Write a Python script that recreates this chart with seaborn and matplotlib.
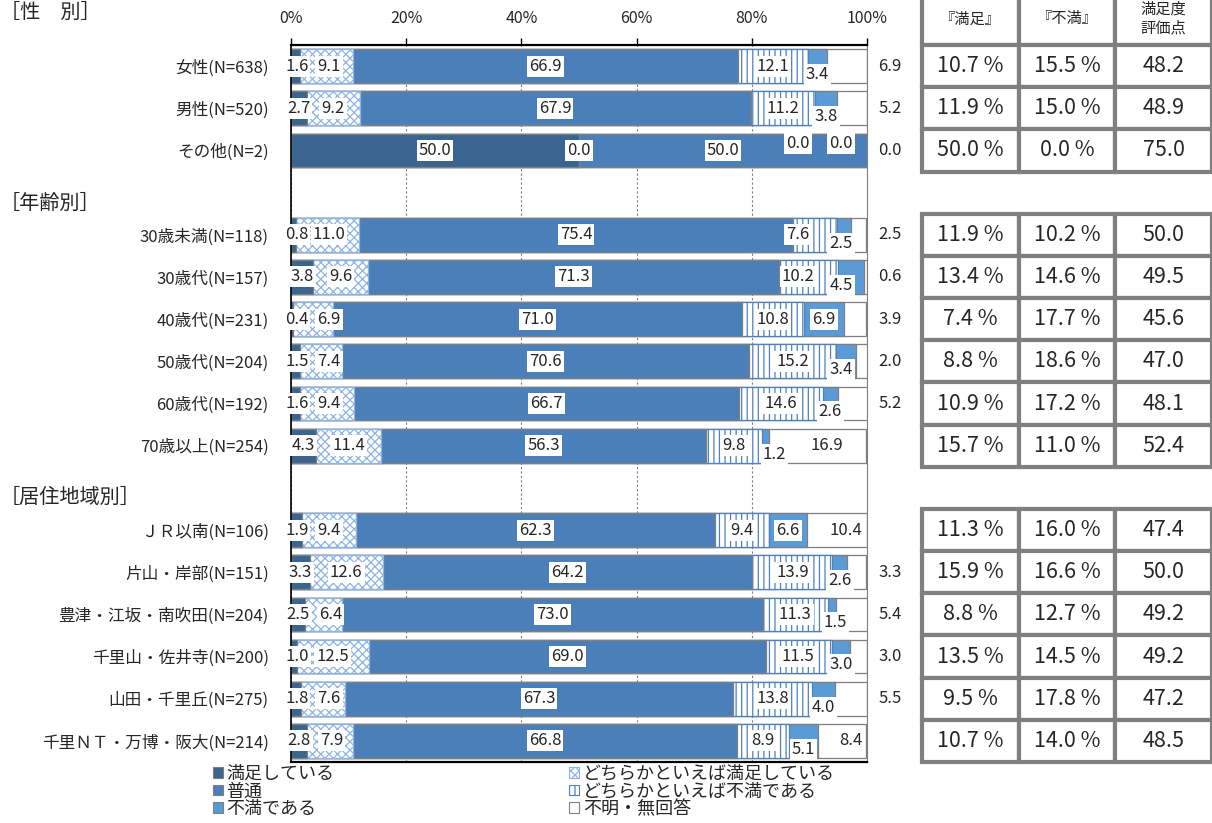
import matplotlib
matplotlib.use('Agg')
import matplotlib.pyplot as plt
from matplotlib.patches import Patch, Rectangle
from matplotlib.transforms import blended_transform_factory
import pandas as pd
import seaborn as sns

# ---- data ----
rows = ['女性(N=638)', '男性(N=520)', 'その他(N=2)', ' ',
        '30歳未満(N=118)', '30歳代(N=157)', '40歳代(N=231)', '50歳代(N=204)',
        '60歳代(N=192)', '70歳以上(N=254)', '  ',
        'ＪＲ以南(N=106)', '片山・岸部(N=151)', '豊津・江坂・南吹田(N=204)',
        '千里山・佐井寺(N=200)', '山田・千里丘(N=275)', '千里ＮＴ・万博・阪大(N=214)']

satisfied = [1.6, 2.7, 50.0, None, 0.8, 3.8, 0.4, 1.5, 1.6, 4.3, None,
             1.9, 3.3, 2.5, 1.0, 1.8, 2.8]
somewhat_sat = [9.1, 9.2, 0.0, None, 11.0, 9.6, 6.9, 7.4, 9.4, 11.4, None,
                9.4, 12.6, 6.4, 12.5, 7.6, 7.9]
neutral = [66.9, 67.9, 50.0, None, 75.4, 71.3, 71.0, 70.6, 66.7, 56.3, None,
           62.3, 64.2, 73.0, 69.0, 67.3, 66.8]
somewhat_dis = [12.1, 11.2, 0.0, None, 7.6, 10.2, 10.8, 15.2, 14.6, 9.8, None,
                9.4, 13.9, 11.3, 11.5, 13.8, 8.9]
dissatisfied = [3.4, 3.8, 0.0, None, 2.5, 4.5, 6.9, 3.4, 2.6, 1.2, None,
                6.6, 2.6, 1.5, 3.0, 4.0, 5.1]
no_answer = [6.9, 5.2, 0.0, None, 2.5, 0.6, 3.9, 2.0, 5.2, 16.9, None,
             10.4, 3.3, 5.4, 3.0, 5.5, 8.4]

# table on the right
sat_pct = [10.7, 11.9, 50.0, None, 11.9, 13.4, 7.4, 8.8, 10.9, 15.7, None,
           11.3, 15.9, 8.8, 13.5, 9.5, 10.7]
dis_pct = [15.5, 15.0, 0.0, None, 10.2, 14.6, 17.7, 18.6, 17.2, 11.0, None,
           16.0, 16.6, 12.7, 14.5, 17.8, 14.0]
score = [48.2, 48.9, 75.0, None, 50.0, 49.5, 45.6, 47.0, 48.1, 52.4, None,
         47.4, 50.0, 49.2, 49.2, 47.2, 48.5]
table_heads = ['『満足』', '『不満』', '満足度\n評価点']

sections = ['［性　別］', '［年齢別］', '［居住地域別］']

segments = ['満足している', 'どちらかといえば満足している', '普通',
            'どちらかといえば不満である', '不満である', '不明・無回答']

seg_style = {
    '満足している': dict(color='#3A6591', edgecolor='#7f7f7f', hatch=None),
    'どちらかといえば満足している': dict(color='white', edgecolor='#8EB4E3', hatch='xxxx'),
    '普通': dict(color='#4A7FB9', edgecolor='#7f7f7f', hatch=None),
    'どちらかといえば不満である': dict(color='white', edgecolor='#4F81BD', hatch='|||'),
    '不満である': dict(color='#5B9BD5', edgecolor='#7f7f7f', hatch=None),
    '不明・無回答': dict(color='white', edgecolor='#7f7f7f', hatch=None),
}

# ---- style ----
sns.set_style('white')
plt.rcParams['font.family'] = ['Noto Sans CJK JP', 'DejaVu Sans']
plt.rcParams['hatch.linewidth'] = 0.9

df = pd.DataFrame({'row': rows})
for seg, vals in zip(segments, [satisfied, somewhat_sat, neutral,
                                somewhat_dis, dissatisfied, no_answer]):
    df[seg] = pd.to_numeric(pd.Series(vals), errors='coerce')
cum = df[segments].cumsum(axis=1)
cum['row'] = df['row']

fig = plt.figure(figsize=(12.12, 8.23), dpi=100)
ax = fig.add_axes([291 / 1212, 61 / 823, 576 / 1212, 717 / 823])

# stacked bars: draw cumulative totals from the longest to the shortest
for seg in segments[::-1]:
    st = seg_style[seg]
    kw = dict(hatch=st['hatch']) if st['hatch'] else {}
    sns.barplot(data=cum, x=seg, y='row', order=rows, orient='h',
                color=st['color'], saturation=1, errorbar=None, width=0.8,
                edgecolor=st['edgecolor'], linewidth=0.9, ax=ax, **kw)

ax.set_xlim(0, 100)
ax.set_ylim(len(rows) - 0.5, -0.5)
ax.set_xlabel('')
ax.set_ylabel('')
ax.xaxis.tick_top()
ax.set_xticks(range(0, 101, 20))
ax.set_xticklabels([f'{t}%' for t in range(0, 101, 20)], fontsize=11.5)
ax.tick_params(axis='x', direction='out', length=5, width=1, color='black', pad=8)
ax.tick_params(axis='y', length=0, pad=16, labelsize=12)
ax.set_yticks(range(len(rows)))
ax.set_yticklabels([r.strip() for r in rows])
ax.set_yticks([i - 0.5 for i in range(len(rows) + 1)], minor=True)
ax.tick_params(axis='y', which='minor', direction='in', length=6, width=1, color='black')
ax.set_axisbelow(True)
ax.grid(axis='x', color='#7f7f7f', linestyle=(0, (2, 2)), linewidth=0.8)
for side in ['top', 'left', 'bottom']:
    ax.spines[side].set_color('black')
ax.spines['top'].set_linewidth(1.6)
ax.spines['left'].set_linewidth(1.2)
ax.spines['bottom'].set_linewidth(1.6)
ax.spines['right'].set_color('#7f7f7f')

# data labels
box = dict(facecolor='white', edgecolor='none', pad=1.5)
for i in range(len(rows)):
    if pd.isna(df.loc[i, segments[0]]):
        continue
    start = 0.0
    prev_x = 0.0
    for k, seg in enumerate(segments):
        v = df.loc[i, seg]
        center = start + v / 2
        y = i
        if k == 0:
            x = max(center, 1.0)
        elif k == 1:
            x = max(center, prev_x + 5.6)
        elif k == 3:
            x = min(center, 88.0)
            if v == 0:
                y = i - 0.17
        elif k == 4:
            x = min(max(center, prev_x + 7.0), 95.5)
            if v == 0:
                y = i - 0.17
            elif v < 6:
                y = i + 0.2
        elif k == 5:
            x = 104 if v < 8 else center + 1.5
        else:
            x = center
        ax.text(x, y, f'{v:.1f}', ha='center', va='center', fontsize=12,
                bbox=box if k < 5 or v >= 8 else None, clip_on=False, zorder=5)
        prev_x = x
        start += v

# section headers
tr = blended_transform_factory(fig.transFigure, ax.transData)
for name, yy in zip(sections, [-1.26, 3.25, 10.22]):
    ax.text(0, yy, name, transform=tr, ha='left', va='center', fontsize=14.5)

# table
axt = fig.add_axes([922 / 1212, 61 / 823, 290 / 1212, 717 / 823])
axt.set_xlim(0, 3)
axt.set_ylim(len(rows) - 0.5, -0.5)
axt.axis('off')
cell = dict(facecolor='white', edgecolor='#7f7f7f', linewidth=3, clip_on=False)
for j, head in enumerate(table_heads):
    axt.add_patch(Rectangle((j, -1.75), 1, 1.25, **cell))
    axt.text(j + 0.5, -1.12, head, ha='center', va='center', fontsize=11,
             linespacing=1.15, clip_on=False)
for i in range(len(rows)):
    if sat_pct[i] is None:
        continue
    texts = [f'{sat_pct[i]:.1f} %', f'{dis_pct[i]:.1f} %', f'{score[i]:.1f}']
    for j, t in enumerate(texts):
        axt.add_patch(Rectangle((j, i - 0.5), 1, 1, **cell))
        axt.text(j + 0.5, i, t, ha='center', va='center', fontsize=15.5)

# legend
order = [0, 2, 4, 1, 3, 5]
handles = []
for k in order:
    st = seg_style[segments[k]]
    handles.append(Patch(facecolor=st['color'], edgecolor=st['edgecolor'],
                         hatch=st['hatch'], linewidth=0.8))
fig.legend(handles, [segments[k] for k in order], loc='upper left',
           bbox_to_anchor=(212 / 1212, 1 - 764 / 823), ncol=2, frameon=False,
           fontsize=13, handlelength=0.55, handleheight=0.55, handletextpad=0.2,
           labelspacing=-0.03, columnspacing=13, borderpad=0.05, borderaxespad=0)

fig.savefig('out.png', dpi=100)
